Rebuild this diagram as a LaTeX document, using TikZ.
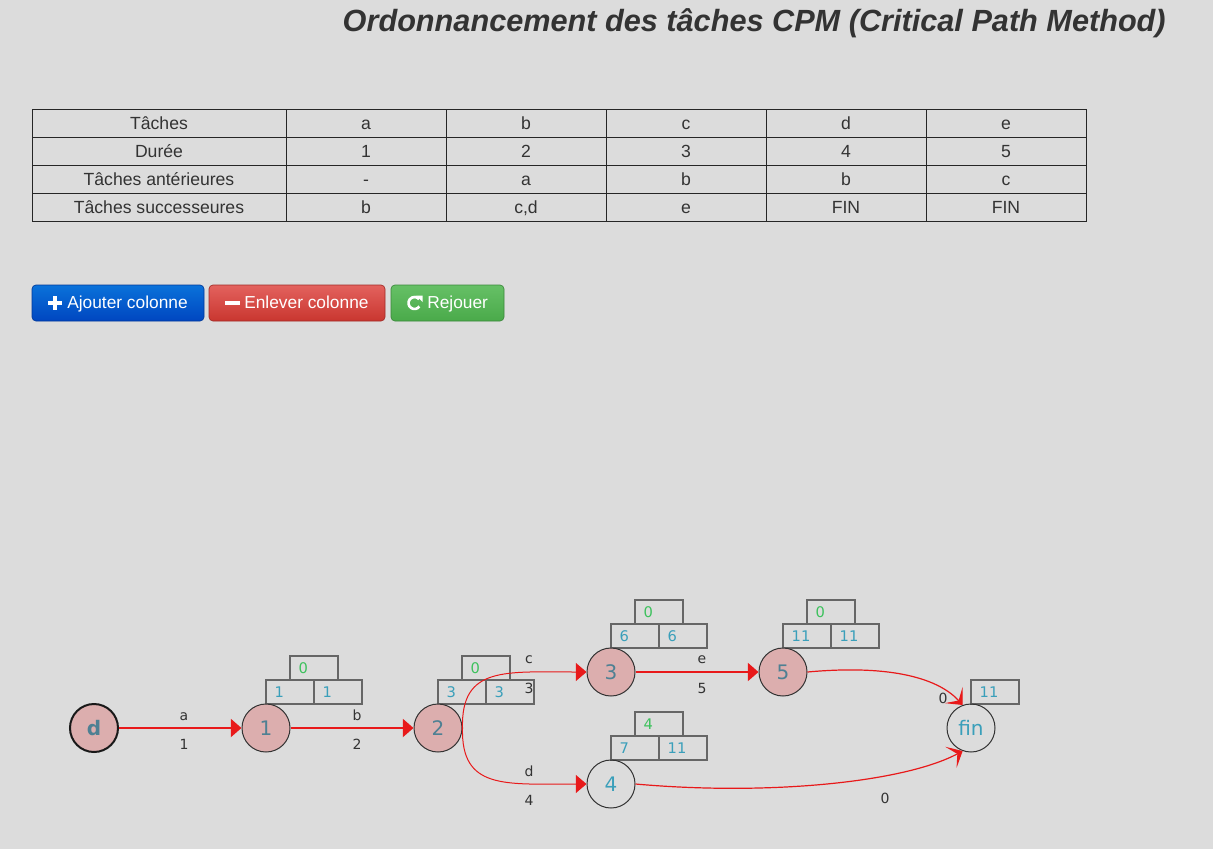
\documentclass[tikz,border=0pt]{standalone}
\usepackage{fontspec}
\setmainfont{Liberation Sans}
\newfontfamily\gfont{DejaVu Sans}
\usetikzlibrary{arrows.meta,shapes.geometric}
\definecolor{bg}{HTML}{DCDCDC}
\definecolor{txt}{HTML}{333333}
\definecolor{pinkn}{HTML}{DCAEAE}
\definecolor{tealn}{HTML}{3A9FBA}
\definecolor{tealp}{HTML}{4E8093}
\definecolor{greenv}{HTML}{3CC15C}
\definecolor{boxgray}{HTML}{666666}
\definecolor{redl}{HTML}{E8191A}
\definecolor{bluet}{HTML}{0A72DA}
\definecolor{blueb}{HTML}{0046C0}
\definecolor{redt}{HTML}{E3625E}
\definecolor{redb}{HTML}{C9362F}
\definecolor{greent}{HTML}{66C066}
\definecolor{greenb}{HTML}{4AAA4A}
\tikzset{
  cell/.style={font=\fontsize{13.2}{15}\selectfont, text=txt, inner sep=0pt, anchor=base},
  evt/.style={circle, draw=txt, line width=0.75pt, minimum size=36pt, inner sep=0pt, font=\gfont\fontsize{15}{17}\selectfont},
  crit/.style={evt, fill=pinkn, text=tealp},
  noncrit/.style={evt, text=tealn},
  vbox/.style={rectangle, draw=boxgray, line width=1.5pt, minimum width=36pt, minimum height=18pt, inner xsep=6.5pt, inner ysep=0pt, text width=23pt, align=left, font=\gfont\fontsize{11}{12}\selectfont},
  gbox/.style={vbox, text=greenv},
  bbox/.style={vbox, text=tealn},
  elab/.style={font=\gfont\fontsize{10.5}{12}\selectfont, text=txt, inner sep=0pt, anchor=base},
  critedge/.style={draw=redl, line width=1.5pt, -{Triangle[length=8pt,width=13.5pt]}},
  thinedge/.style={draw=redl, line width=0.75pt, -{Triangle[length=8pt,width=13.5pt]}},
  finedge/.style={draw=redl, line width=0.9pt, -{Stealth[length=10pt,width=18pt,inset=5.5pt]}},
  btn/.style={rounded corners=3pt, draw=#1!80!black, line width=0.5pt},
  btntext/.style={font=\fontsize{13}{15}\selectfont, text=white, inner sep=0pt, anchor=base west}
}
\begin{document}
\begin{tikzpicture}[x=0.75pt,y=-0.75pt]
\fill[bg] (0,0) rectangle (1213,849);
\useasboundingbox (0,0) rectangle (1213,849);

% title
\node[anchor=east, inner sep=0pt, text=txt, font=\fontsize{23}{27}\selectfont\bfseries\itshape] (title) at (1166,23) {Ordonnancement des tâches CPM (Critical Path Method)};

% table grid
\draw[line width=0.75pt, draw=black!85] (32,109) rectangle (1086,221);
\foreach \y in {137,165,193} \draw[line width=0.75pt, draw=black!85] (32,\y) -- (1086,\y);
\foreach \x in {286,446,606,766,926} \draw[line width=0.75pt, draw=black!85] (\x,109) -- (\x,221);

% table text
\node[cell] (t11) at (159,129) {Tâches};
\node[cell] (t12) at (366,129) {a};
\node[cell] (t13) at (526,129) {b};
\node[cell] (t14) at (686,129) {c};
\node[cell] (t15) at (846,129) {d};
\node[cell] (t16) at (1006,129) {e};
\node[cell] (t21) at (159,157) {Durée};
\node[cell] (t22) at (366,157) {1};
\node[cell] (t23) at (526,157) {2};
\node[cell] (t24) at (686,157) {3};
\node[cell] (t25) at (846,157) {4};
\node[cell] (t26) at (1006,157) {5};
\node[cell] (t31) at (159,185) {Tâches antérieures};
\node[cell] (t32) at (366,185) {-};
\node[cell] (t33) at (526,185) {a};
\node[cell] (t34) at (686,185) {b};
\node[cell] (t35) at (846,185) {b};
\node[cell] (t36) at (1006,185) {c};
\node[cell] (t41) at (159,213) {Tâches successeures};
\node[cell] (t42) at (366,213) {b};
\node[cell] (t43) at (526,213) {c,d};
\node[cell] (t44) at (686,213) {e};
\node[cell] (t45) at (846,213) {FIN};
\node[cell] (t46) at (1006,213) {FIN};

% buttons
\shade[btn=blueb, top color=bluet, bottom color=blueb] (32,285) rectangle (204,321);
\shade[btn=redb, top color=redt, bottom color=redb] (209,285) rectangle (385,321);
\shade[btn=greenb, top color=greent, bottom color=greenb] (391,285) rectangle (504,321);
% icons
\fill[white] (48,301) rectangle (62,305);
\fill[white] (53,296) rectangle (57,310);
\fill[white] (225,301) rectangle (240,305);
\draw[white, line width=2pt] (414.5,303) ++(35:6) arc[start angle=35, end angle=320, radius=6];
\fill[white] (416,295.5) -- (422.5,295.5) -- (422.5,302) -- cycle;
\node[btntext] (b1) at (67,308) {Ajouter colonne};
\node[btntext] (b2) at (244,308) {Enlever colonne};
\node[btntext] (b3) at (427,308) {Rejouer};

% value boxes
\node[gbox] (v1t) at (314,668) {0};
\node[bbox] (v1l) at (290,692) {1};
\node[bbox] (v1r) at (338,692) {1};
\node[gbox] (v2t) at (486,668) {0};
\node[bbox] (v2l) at (462,692) {3};
\node[bbox] (v2r) at (510,692) {3};
\node[gbox] (v3t) at (659,612) {0};
\node[bbox] (v3l) at (635,636) {6};
\node[bbox] (v3r) at (683,636) {6};
\node[gbox] (v4t) at (659,724) {4};
\node[bbox] (v4l) at (635,748) {7};
\node[bbox] (v4r) at (683,748) {11};
\node[gbox] (v5t) at (831,612) {0};
\node[bbox] (v5l) at (807,636) {11};
\node[bbox] (v5r) at (855,636) {11};
\node[bbox] (vfin) at (995,692) {11};

% events
\node[crit, line width=1.5pt, draw=black!90, font=\gfont\fontsize{15}{17}\selectfont\bfseries] (d) at (94,728) {d};
\node[crit] (n1) at (266,728) {1};
\node[crit] (n2) at (438,728) {2};
\node[crit] (n3) at (611,672) {3};
\node[noncrit] (n4) at (611,784) {4};
\node[crit] (n5) at (783,672) {5};
\node[noncrit] (fin) at (971,728) {fin};

% edges
\draw[critedge] (d) -- (n1);
\draw[critedge] (n1) -- (n2);
\draw[critedge] (n3) -- (n5);
\draw[thinedge] (n2.east) .. controls (461,666) and (505,672) .. (n3.west);
\draw[thinedge] (n2.east) .. controls (461,790) and (505,784) .. (n4.west);
\draw[finedge] (n5.east) .. controls (895,664) and (940,680) .. (fin.110);
\draw[finedge] (n4.east) .. controls (770,796) and (905,782) .. (fin.250);

% edge labels
\node[elab] (la) at (184,720) {a};
\node[elab] (l1) at (184,749) {1};
\node[elab] (lb) at (357,720) {b};
\node[elab] (l2) at (357,749) {2};
\node[elab] (lc) at (529,663) {c};
\node[elab] (l3) at (529,693) {3};
\node[elab] (ld) at (529,776) {d};
\node[elab] (l4) at (529,805) {4};
\node[elab] (le) at (702,663) {e};
\node[elab] (l5) at (702,693) {5};
\node[elab] (l0a) at (943,703) {0};
\node[elab] (l0b) at (885,803) {0};
\end{tikzpicture}
\end{document}
